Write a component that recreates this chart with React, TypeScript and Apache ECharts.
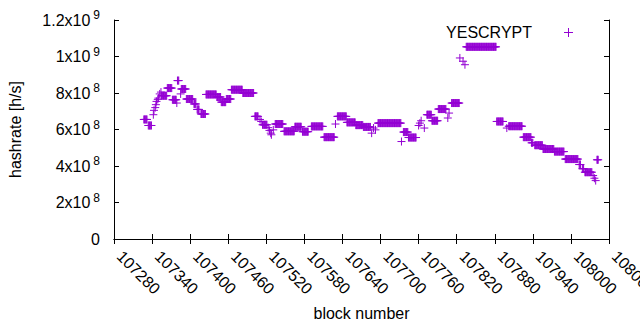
import React, { useEffect, useRef } from "react";
import * as echarts from "echarts";

// Runs of consecutive blocks sharing the same hashrate (units: 1e8 h/s)
const runStart = [
  107327, 107334, 107342, 107343, 107345, 107346, 107347, 107349, 107350, 107352,
  107354, 107355, 107364, 107372, 107379, 107380, 107385, 107386, 107394, 107406,
  107411, 107417, 107425, 107442, 107449, 107457, 107465, 107483, 107502, 107510,
  107512, 107514, 107523, 107525, 107527, 107528, 107531, 107534, 107548, 107565,
  107577, 107591, 107611, 107629, 107632, 107647, 107661, 107673, 107686, 107689,
  107692, 107696, 107733, 107736, 107744, 107760, 107762, 107764, 107769, 107773,
  107781, 107791, 107806, 107808, 107812, 107825, 107830, 107833, 107835, 107883,
  107899, 107902, 107925, 107938, 107943, 107956, 107974, 107991, 108013, 108018,
  108022, 108035, 108037, 108039, 108041,
];
const runEnd = [
  107332, 107339, 107342, 107343, 107345, 107346, 107347, 107349, 107350, 107352,
  107354, 107363, 107371, 107378, 107379, 107382, 107385, 107393, 107404, 107409,
  107414, 107424, 107441, 107448, 107456, 107464, 107482, 107500, 107507, 107510,
  107512, 107521, 107523, 107525, 107527, 107528, 107531, 107546, 107564, 107575,
  107586, 107609, 107627, 107629, 107646, 107660, 107672, 107684, 107686, 107689,
  107692, 107732, 107733, 107743, 107756, 107760, 107762, 107764, 107769, 107780,
  107790, 107803, 107806, 107808, 107824, 107825, 107830, 107833, 107882, 107893,
  107899, 107923, 107937, 107940, 107955, 107973, 107989, 108011, 108015, 108020,
  108033, 108035, 108037, 108039, 108043,
];
const runValue = [
  6.55, 6.22, 6.81, 7.05, 7.2, 7.36, 7.54, 7.65, 7.72, 7.95,
  8.05, 7.85, 8.27, 7.63, 7.45, 8.68, 7.95, 8.22, 7.67, 7.4,
  7.1, 6.85, 7.92, 7.78, 7.5, 7.67, 8.18, 8.0, 6.72, 6.55,
  6.44, 6.26, 6.1, 5.95, 5.8, 5.71, 5.98, 6.3, 5.9, 6.15,
  5.88, 6.17, 5.58, 6.3, 6.72, 6.39, 6.24, 6.14, 5.8, 6.08,
  5.98, 6.35, 5.34, 5.86, 5.56, 6.22, 6.35, 6.48, 6.08, 6.81,
  6.48, 7.12, 6.63, 6.9, 7.45, 9.92, 9.74, 9.55, 10.53, 6.44,
  6.08, 6.18, 5.58, 5.27, 5.14, 4.93, 4.79, 4.38, 4.08, 3.85,
  3.66, 3.48, 3.33, 3.2, 4.34,
];

const xMin = 107280;
const xMax = 108060;
const xStep = 60;
const yTickValues = [0, 2e8, 4e8, 6e8, 8e8, 1e9, 1.2e9];
const yTickMantissa = ["0", "2x10", "4x10", "6x10", "8x10", "1x10", "1.2x10"];
const yTickExp = ["", "8", "8", "8", "8", "9", "9"];
const seriesName = "YESCRYPT";
const xName = "block number";
const yName = "hashrate [h/s]";

const COLOR = "#9400d3";
const FONT = "Liberation Sans";

export default function App() {
  const ref = useRef<HTMLDivElement>(null);
  useEffect(() => {
    if (!ref.current) return;
    document.body.style.margin = "0";
    const chart = echarts.init(ref.current, undefined, { renderer: "svg" });
    const data: [number, number][] = [];
    for (let i = 0; i < runStart.length; i++) {
      for (let b = runStart[i]; b <= runEnd[i]; b++) {
        data.push([b, runValue[i] * 1e8]);
      }
    }
    const yFormatter = (v: number) => {
      const i = yTickValues.findIndex((t) => Math.abs(t - v) < 1);
      if (i < 0) return "";
      return yTickExp[i] ? `{m|${yTickMantissa[i]}}{e|${yTickExp[i]}}` : `{m|${yTickMantissa[i]}}`;
    };
    const axisLine = { show: true, lineStyle: { color: "#000", width: 1 } };
    chart.setOption({
      animation: false,
      grid: { left: 114, right: 31, top: 20, bottom: 91, containLabel: false, outerBoundsMode: "none" },
      xAxis: [
        {
          type: "value",
          min: xMin,
          max: xMax,
          interval: xStep,
          position: "bottom",
          axisLine,
          axisTick: { show: true, inside: true, length: 5, lineStyle: { color: "#000" } },
          splitLine: { show: false },
          axisLabel: {
            rotate: -45,
            margin: 9,
            padding: [0, 0, 0, 8],
            fontSize: 16,
            fontFamily: FONT,
            color: "#000",
            showMinLabel: true,
            showMaxLabel: true,
            hideOverlap: false,
            formatter: (v: number) => String(v),
          },
          name: xName,
          nameLocation: "middle",
          nameGap: 66,
          nameTextStyle: { fontSize: 16, fontFamily: FONT, color: "#000" },
        },
        {
          type: "value",
          min: xMin,
          max: xMax,
          interval: xStep,
          position: "top",
          axisLine,
          axisTick: { show: true, inside: true, length: 5, lineStyle: { color: "#000" } },
          splitLine: { show: false },
          axisLabel: { show: false },
        },
      ],
      yAxis: [
        {
          type: "value",
          min: 0,
          max: 1.2e9,
          interval: 2e8,
          position: "left",
          axisLine,
          axisTick: { show: true, inside: true, length: 5, lineStyle: { color: "#000" } },
          splitLine: { show: false },
          axisLabel: {
            margin: 14,
            formatter: yFormatter,
            rich: {
              m: { fontSize: 16, fontFamily: FONT, color: "#000", lineHeight: 22 },
              e: { fontSize: 12, fontFamily: FONT, color: "#000", lineHeight: 14, verticalAlign: "top", padding: [0, 0, 0, 3] },
            },
          },
          name: yName,
          nameLocation: "middle",
          nameGap: 91,
          nameTextStyle: { fontSize: 16, fontFamily: FONT, color: "#000" },
        },
        {
          type: "value",
          min: 0,
          max: 1.2e9,
          interval: 2e8,
          position: "right",
          axisLine,
          axisTick: { show: true, inside: true, length: 5, lineStyle: { color: "#000" } },
          splitLine: { show: false },
          axisLabel: { show: false },
        },
      ],
      graphic: [
        {
          type: "text",
          x: 532,
          y: 32,
          style: { text: seriesName, fontSize: 16, fontFamily: FONT, fill: "#000", align: "right", verticalAlign: "middle" },
        },
        { type: "line", shape: { x1: 564, y1: 32.5, x2: 573, y2: 32.5 }, style: { stroke: COLOR, lineWidth: 1 } },
        { type: "line", shape: { x1: 568.5, y1: 28, x2: 568.5, y2: 37 }, style: { stroke: COLOR, lineWidth: 1 } },
      ],
      series: [
        {
          name: seriesName,
          type: "scatter",
          xAxisIndex: 0,
          yAxisIndex: 0,
          data,
          symbol: "path://M0,4L8,4M4,0L4,8",
          symbolSize: 8,
          itemStyle: { color: "none", borderColor: COLOR, borderWidth: 1, opacity: 1 },
          emphasis: { disabled: true },
        },
      ],
    });
    return () => chart.dispose();
  }, []);
  return <div ref={ref} style={{ width: 640, height: 330 }} />;
}
